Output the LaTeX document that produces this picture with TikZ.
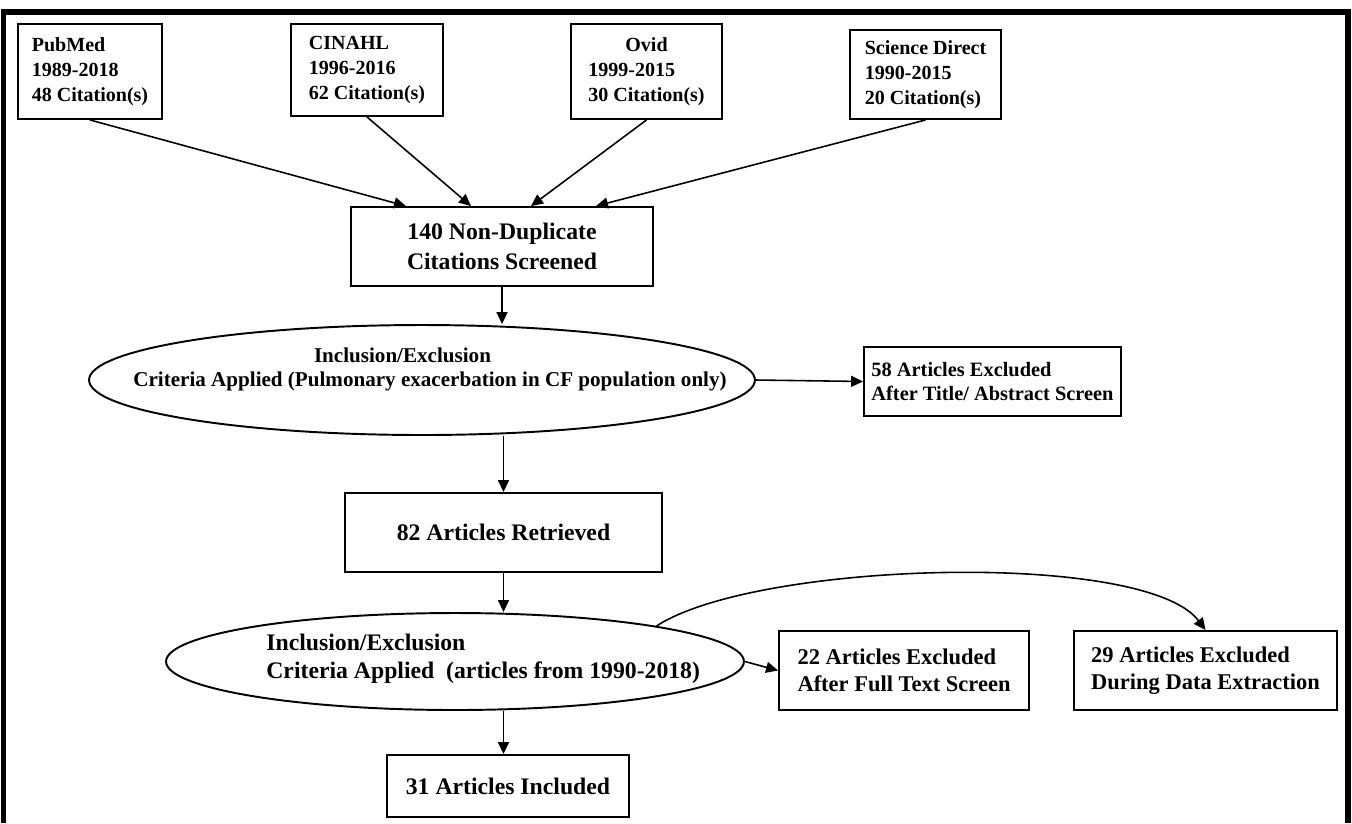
\documentclass[tikz,border=0pt]{standalone}
\usepackage{fontspec}
\setmainfont{Liberation Serif}
\usetikzlibrary{positioning,arrows.meta,shapes.geometric,calc}

\begin{document}
\begin{tikzpicture}[x=0.02cm,y=-0.02cm,every node/.style={font=\bfseries}]
    \tikzstyle{db}=[draw,line width=1.1pt,align=left,inner sep=0pt,font=\fontsize{11.4}{14.2}\selectfont\bfseries];
    \tikzstyle{bigbox}=[draw,line width=1.1pt,align=center,inner sep=0pt,font=\fontsize{13.5}{17}\selectfont\bfseries];
    \tikzstyle{excl}=[draw,line width=1.1pt,align=left,inner sep=0pt,font=\fontsize{12.8}{15.4}\selectfont\bfseries];
    \tikzstyle{crit}=[ellipse,draw,line width=1.1pt,inner sep=0pt];
    \tikzstyle{crittext}=[inner sep=0pt];
    \tikzstyle{arr}=[-{Triangle[length=2.4mm,width=2.2mm]},line width=0.9pt];
    \useasboundingbox (0,0) rectangle (1352,823);
    % --- outer frame ---
    \draw[line width=3.4pt] (3.5,823) -- (3.5,12) -- (1348,12) -- (1348,823);
    % --- top: databases ---
    \node[db,minimum width=2.88cm,minimum height=1.90cm] (pub) at (90,71.5) {PubMed\\1989-2018\\48 Citation(s)};
    \node[db,minimum width=3.04cm,minimum height=1.84cm] (cin) at (367,70) {CINAHL\\1996-2016\\62 Citation(s)};
    \node[db,minimum width=3.02cm,minimum height=1.90cm] (ovid) at (646.5,71.5)
      {\begin{tabular}{@{}l@{}}\multicolumn{1}{@{}c@{}}{Ovid}\\1999-2015\\30 Citation(s)\end{tabular}};
    \node[db,minimum width=3.02cm,minimum height=1.78cm] (sd) at (925.5,74.5) {Science Direct\\1990-2015\\20 Citation(s)};
    % --- screening ---
    \node[bigbox,minimum width=6.04cm,minimum height=1.58cm] (scr) at (502,246.5) {140 Non-Duplicate\\Citations Screened};
    \node[crit,minimum width=13.32cm,minimum height=2.20cm] (ell1) at (422,380) {};
    \node[crittext,align=center,font=\fontsize{12}{13.7}\selectfont\bfseries] (ell1t) at (430,369)
      {Inclusion/Exclusion\hspace*{1.1cm}\\Criteria Applied (Pulmonary exacerbation in CF population only)};
    \node[excl,minimum width=5.14cm,minimum height=1.38cm,font=\fontsize{11.6}{14.2}\selectfont\bfseries] (ex1) at (992.5,381.5)
      {58 Articles Excluded\\After Title/ Abstract Screen};
    % --- retrieval ---
    \node[bigbox,minimum width=6.34cm,minimum height=1.58cm] (ret) at (503.5,532.5) {82 Articles Retrieved};
    \node[crit,minimum width=11.56cm,minimum height=1.94cm] (ell2) at (455,661.5) {};
    \node[crittext,align=left,anchor=west,font=\fontsize{13.5}{16}\selectfont\bfseries] (ell2t) at (266,659)
      {Inclusion/Exclusion\\Criteria Applied~ (articles from 1990-2018)};
    \node[excl,minimum width=5.00cm,minimum height=1.58cm] (ex2) at (904,670.5) {22 Articles Excluded\\After Full Text Screen};
    \node[excl,minimum width=5.26cm,minimum height=1.58cm] (ex3) at (1205.5,670.5) {29 Articles Excluded\\During Data Extraction};
    \node[bigbox,minimum width=4.84cm,minimum height=1.24cm] (inc) at (508,786) {31 Articles Included};
    % --- arrows ---
    \draw[arr] (pub.south) -- ($(scr.north)+(-96,0)$);
    \draw[arr] (cin.south) -- ($(scr.north)+(-31,0)$);
    \draw[arr] (ovid.south) -- ($(scr.north)+(29,0)$);
    \draw[arr] (sd.south) -- ($(scr.north)+(94,0)$);
    \draw[arr] (scr.south) -- (scr.south |- ell1.north);
    \draw[arr] (ell1.east) -- (ex1.west);
    \draw[arr] (ell1.south -| ret.north) -- (ret.north);
    \draw[arr] (ret.south) -- (ret.south |- ell2.north);
    \draw[arr] (ell2.east) -- (ex2.west);
    \draw[arr] (ell2.10) .. controls +(100,-65) and +(-60,-80) .. (ex3.north);
    \draw[arr] (ret.south |- ell2.south) -- (ret.south |- inc.north);
\end{tikzpicture}
\end{document}
